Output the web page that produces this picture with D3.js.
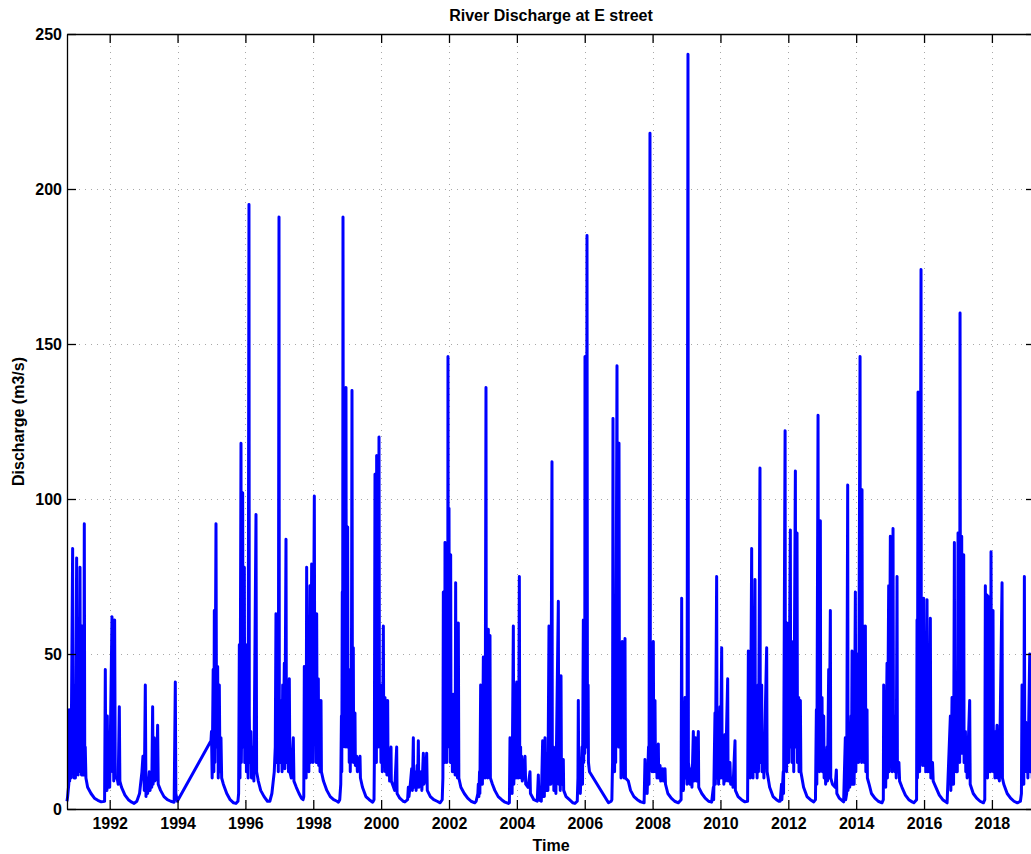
<!DOCTYPE html>
<html>
  <head>
    <meta charset="utf-8">
    <!-- load the d3 javascript library -->
    <script src="https://d3js.org/d3.v7.min.js"></script>
    <style>
      body { margin: 0; background: #fff; }
      text { font-family: "Liberation Sans", Arial, Helvetica, sans-serif; font-weight: bold; }
    </style>
  </head>
  <body>
    <script>

    // discharge readings (decimal year, m3/s), split by decade
    var flow1990s = [
      [1990.742, 2.5], [1990.76, 4], [1990.795, 8], [1990.81, 32], [1990.82, 9], [1990.85, 25], [1990.86, 10],
      [1990.908, 84], [1990.92, 14], [1990.94, 40], [1990.95, 10], [1990.98, 30], [1990.99, 10],
      [1991.026, 81], [1991.04, 12], [1991.06, 30], [1991.07, 11], [1991.085, 55], [1991.10, 12],
      [1991.125, 78], [1991.14, 14], [1991.16, 35], [1991.17, 11], [1991.184, 59], [1991.20, 12],
      [1991.22, 25], [1991.235, 11], [1991.252, 92], [1991.265, 14], [1991.28, 20], [1991.30, 10],
      [1991.35, 7], [1991.45, 5], [1991.55, 3.5], [1991.65, 2.8], [1991.75, 2.3], [1991.85, 2.5],
      [1991.871, 45], [1991.885, 8], [1991.91, 12], [1991.92, 6], [1991.930, 30], [1991.945, 7],
      [1991.98, 10], [1992.00, 7], [1992.068, 62], [1992.085, 12], [1992.11, 20], [1992.12, 9],
      [1992.146, 61], [1992.165, 10], [1992.22, 10], [1992.25, 8], [1992.284, 33], [1992.30, 9],
      [1992.35, 7], [1992.45, 4.5], [1992.55, 3], [1992.65, 2.2], [1992.72, 1.8],
      [1992.80, 2.5], [1992.88, 5], [1992.95, 12], [1992.98, 17], [1993.00, 15], [1993.02, 6],
      [1993.05, 40], [1993.07, 4], [1993.10, 10], [1993.12, 5], [1993.168, 12], [1993.19, 6],
      [1993.22, 10], [1993.24, 7], [1993.266, 33], [1993.28, 8], [1993.315, 23], [1993.33, 9],
      [1993.38, 10], [1993.413, 27], [1993.43, 8], [1993.50, 6], [1993.60, 4], [1993.70, 3],
      [1993.80, 2.5], [1993.90, 2.2], [1993.934, 41], [1993.95, 5], [1993.993, 2.5],
      [1994.985, 22], [1995.00, 25], [1995.02, 10], [1995.05, 45], [1995.07, 12], [1995.084, 64],
      [1995.10, 15], [1995.133, 92], [1995.15, 20], [1995.182, 46], [1995.20, 10], [1995.231, 40],
      [1995.25, 12], [1995.28, 23], [1995.30, 10], [1995.35, 8], [1995.45, 5], [1995.55, 3],
      [1995.65, 2], [1995.72, 1.8], [1995.78, 2.5],
      [1995.80, 5], [1995.821, 53], [1995.84, 10], [1995.870, 118], [1995.88, 15], [1995.90, 40],
      [1995.919, 102], [1995.93, 20], [1995.95, 60], [1995.968, 78], [1995.98, 15], [1996.017, 53],
      [1996.03, 12], [1996.06, 25], [1996.08, 10], [1996.105, 195], [1996.115, 30], [1996.13, 15],
      [1996.16, 25], [1996.18, 10], [1996.22, 20], [1996.25, 9], [1996.312, 95], [1996.33, 12],
      [1996.38, 9], [1996.45, 6], [1996.55, 4], [1996.65, 2.5], [1996.72, 2.5],
      [1996.78, 5], [1996.85, 12], [1996.88, 20], [1996.901, 63], [1996.92, 15], [1996.95, 30],
      [1996.97, 12], [1996.990, 191], [1997.00, 25], [1997.03, 15], [1997.06, 35], [1997.08, 12],
      [1997.098, 40], [1997.11, 15], [1997.147, 47], [1997.16, 13], [1997.196, 87], [1997.21, 15],
      [1997.25, 20], [1997.27, 12], [1997.294, 42], [1997.31, 12], [1997.35, 10], [1997.412, 23],
      [1997.43, 9], [1997.50, 7], [1997.58, 5], [1997.65, 3.5], [1997.70, 3],
      [1997.72, 4], [1997.736, 46], [1997.75, 10], [1997.78, 20], [1997.79, 10], [1997.805, 78],
      [1997.82, 14], [1997.85, 40], [1997.87, 12], [1997.903, 72], [1997.92, 15], [1997.952, 79],
      [1997.96, 20], [1997.98, 55], [1997.99, 15], [1998.031, 101], [1998.045, 25], [1998.07, 40],
      [1998.085, 15], [1998.100, 63], [1998.115, 15], [1998.149, 42], [1998.16, 14], [1998.19, 30],
      [1998.20, 12], [1998.228, 35], [1998.24, 12], [1998.30, 9], [1998.40, 6], [1998.50, 4],
      [1998.60, 3], [1998.70, 2.5], [1998.74, 2.2],
      [1998.78, 3], [1998.81, 8], [1998.83, 30], [1998.84, 12], [1998.855, 70], [1998.865, 20],
      [1998.876, 191], [1998.89, 40], [1998.905, 100], [1998.915, 25], [1998.93, 60], [1998.94, 20],
      [1998.964, 136], [1998.975, 30], [1998.99, 75], [1999.00, 20], [1999.013, 91], [1999.025, 20],
      [1999.05, 45], [1999.06, 15], [1999.08, 35], [1999.09, 12], [1999.11, 40], [1999.12, 15],
      [1999.141, 135], [1999.155, 20], [1999.180, 52], [1999.19, 15], [1999.229, 31], [1999.24, 14],
      [1999.28, 17], [1999.30, 12], [1999.377, 17], [1999.39, 10], [1999.45, 7], [1999.55, 4],
      [1999.65, 3], [1999.75, 2.2],
      [1999.79, 3], [1999.80, 15], [1999.819, 108], [1999.83, 20], [1999.85, 50], [1999.86, 15],
      [1999.868, 114], [1999.88, 25], [1999.90, 60], [1999.915, 20], [1999.937, 120], [1999.95, 25],
      [1999.98, 40], [1999.995, 15]
    ];

    var flow2000s = [
      [2000.02, 30], [2000.035, 12], [2000.065, 59], [2000.08, 14], [2000.114, 36], [2000.125, 12],
      [2000.16, 22], [2000.17, 11], [2000.192, 35], [2000.205, 11], [2000.24, 15], [2000.25, 9],
      [2000.291, 20], [2000.30, 9], [2000.40, 6], [2000.458, 20], [2000.47, 5], [2000.55, 3.5],
      [2000.65, 2.5], [2000.70, 2.3],
      [2000.78, 3], [2000.801, 7], [2000.82, 4], [2000.86, 8], [2000.900, 13], [2000.92, 6],
      [2000.949, 23], [2000.96, 7], [2000.99, 10], [2001.018, 12], [2001.03, 6], [2001.06, 14],
      [2001.075, 7], [2001.096, 22], [2001.11, 7], [2001.145, 9], [2001.18, 12], [2001.20, 6],
      [2001.244, 18], [2001.26, 8], [2001.30, 10], [2001.342, 18], [2001.36, 6], [2001.45, 4],
      [2001.55, 3], [2001.65, 2.5], [2001.74, 2],
      [2001.80, 3], [2001.82, 10], [2001.833, 70], [2001.845, 15], [2001.865, 40], [2001.875, 15],
      [2001.882, 86], [2001.895, 20], [2001.92, 45], [2001.935, 15], [2001.955, 60], [2001.962, 20],
      [2001.970, 146], [2001.98, 25], [2002.000, 97], [2002.015, 20], [2002.03, 55], [2002.04, 15],
      [2002.049, 82], [2002.06, 18], [2002.09, 35], [2002.10, 12], [2002.128, 37], [2002.14, 12],
      [2002.17, 25], [2002.18, 11], [2002.196, 73], [2002.21, 12], [2002.24, 20], [2002.25, 10],
      [2002.275, 60], [2002.29, 10], [2002.35, 7], [2002.45, 5], [2002.55, 3.5], [2002.65, 2.5],
      [2002.76, 2],
      [2002.80, 2.5], [2002.85, 5], [2002.864, 8], [2002.88, 4], [2002.90, 12], [2002.91, 5],
      [2002.933, 40], [2002.945, 8], [2002.97, 20], [2002.985, 8], [2003.012, 49], [2003.025, 10],
      [2003.05, 30], [2003.065, 10], [2003.090, 136], [2003.10, 15], [2003.13, 25], [2003.14, 10],
      [2003.159, 58], [2003.17, 12], [2003.208, 56], [2003.22, 10], [2003.28, 8], [2003.35, 6],
      [2003.45, 4], [2003.55, 3], [2003.65, 2.2], [2003.75, 1.8],
      [2003.78, 2], [2003.798, 23], [2003.81, 5], [2003.85, 10], [2003.86, 5], [2003.896, 59],
      [2003.91, 8], [2003.93, 20], [2003.945, 40], [2003.96, 10], [2003.994, 41], [2004.005, 10],
      [2004.04, 25], [2004.05, 10], [2004.073, 75], [2004.085, 12], [2004.11, 20], [2004.12, 10],
      [2004.142, 17], [2004.16, 9], [2004.20, 12], [2004.240, 17], [2004.26, 8], [2004.33, 7],
      [2004.387, 12], [2004.40, 5], [2004.50, 3], [2004.60, 2.5], [2004.633, 11], [2004.65, 3],
      [2004.72, 2.5],
      [2004.76, 22], [2004.77, 4], [2004.80, 10], [2004.81, 4], [2004.829, 23], [2004.84, 6],
      [2004.87, 15], [2004.88, 6], [2004.90, 18], [2004.915, 6], [2004.947, 59], [2004.96, 8],
      [2004.99, 25], [2005.00, 8], [2005.035, 112], [2005.045, 12], [2005.08, 20], [2005.09, 6],
      [2005.12, 10], [2005.15, 5], [2005.222, 67], [2005.235, 8], [2005.27, 12], [2005.28, 6],
      [2005.301, 43], [2005.315, 8], [2005.369, 16], [2005.38, 6], [2005.45, 4], [2005.55, 3],
      [2005.65, 2], [2005.71, 1.8],
      [2005.78, 2.5], [2005.80, 10], [2005.811, 35], [2005.825, 6], [2005.86, 12], [2005.87, 5],
      [2005.92, 20], [2005.935, 8], [2005.959, 61], [2005.97, 15], [2005.99, 50], [2006.00, 18],
      [2006.008, 146], [2006.02, 30], [2006.04, 60], [2006.05, 20], [2006.067, 185], [2006.08, 25],
      [2006.10, 40], [2006.11, 15], [2006.14, 12], [2006.70, 2], [2006.78, 2.5],
      [2006.80, 3], [2006.82, 15], [2006.833, 126], [2006.845, 20], [2006.87, 40], [2006.88, 12],
      [2006.90, 60], [2006.912, 15], [2006.951, 143], [2006.965, 25], [2006.99, 70], [2007.00, 20],
      [2007.010, 118], [2007.025, 20], [2007.06, 30], [2007.07, 10], [2007.108, 54], [2007.12, 12],
      [2007.15, 25], [2007.16, 10], [2007.187, 55], [2007.20, 10], [2007.285, 9], [2007.35, 6],
      [2007.45, 4], [2007.55, 3], [2007.65, 2.3], [2007.75, 2],
      [2007.776, 16], [2007.79, 5], [2007.83, 12], [2007.84, 5], [2007.88, 20], [2007.895, 8],
      [2007.923, 218], [2007.935, 25], [2007.955, 15], [2007.973, 36], [2007.985, 12], [2008.022, 54],
      [2008.035, 12], [2008.071, 35], [2008.085, 12], [2008.12, 20], [2008.13, 10], [2008.169, 21],
      [2008.18, 10], [2008.22, 14], [2008.24, 9], [2008.30, 13], [2008.32, 9], [2008.366, 13],
      [2008.38, 8], [2008.45, 5], [2008.55, 3.5], [2008.65, 2.5], [2008.76, 2],
      [2008.84, 3], [2008.857, 68], [2008.87, 8], [2008.90, 12], [2008.91, 6], [2008.955, 36],
      [2008.97, 10], [2009.00, 15], [2009.015, 8], [2009.043, 243.5], [2009.055, 15], [2009.09, 12],
      [2009.10, 8], [2009.14, 13], [2009.16, 7], [2009.201, 25], [2009.215, 9], [2009.270, 23],
      [2009.285, 9], [2009.348, 25], [2009.36, 7], [2009.45, 5], [2009.55, 3.5], [2009.65, 2.5],
      [2009.74, 2.2],
      [2009.79, 7], [2009.80, 3], [2009.839, 31], [2009.85, 8], [2009.888, 75], [2009.90, 10],
      [2009.93, 25], [2009.945, 8], [2009.987, 33], [2010.00, 10]
    ];

    var flow2010s = [
      [2010.036, 52], [2010.05, 10], [2010.09, 20], [2010.10, 8], [2010.134, 24], [2010.145, 9],
      [2010.213, 42], [2010.225, 9], [2010.28, 15], [2010.30, 8], [2010.35, 10], [2010.37, 7],
      [2010.429, 22], [2010.44, 6], [2010.52, 4], [2010.62, 3], [2010.72, 2.3], [2010.80, 2.5],
      [2010.822, 51], [2010.835, 10], [2010.871, 32], [2010.88, 10], [2010.920, 84], [2010.935, 12],
      [2010.95, 25], [2010.96, 10], [2010.969, 56], [2010.98, 12], [2011.018, 74], [2011.03, 12],
      [2011.07, 25], [2011.08, 10], [2011.11, 40], [2011.12, 12], [2011.165, 110], [2011.175, 15],
      [2011.215, 40], [2011.225, 12], [2011.27, 20], [2011.28, 10], [2011.362, 52], [2011.375, 12],
      [2011.45, 7], [2011.55, 4], [2011.65, 3], [2011.72, 2.5],
      [2011.76, 2.5], [2011.80, 8], [2011.81, 3], [2011.85, 12], [2011.86, 5], [2011.905, 122],
      [2011.915, 15], [2011.94, 30], [2011.95, 12], [2011.962, 60], [2011.975, 15], [2012.00, 54],
      [2012.01, 15], [2012.060, 90], [2012.07, 20], [2012.10, 54], [2012.11, 15], [2012.15, 30],
      [2012.16, 12], [2012.208, 109], [2012.22, 20], [2012.257, 89], [2012.27, 15], [2012.306, 36],
      [2012.315, 12], [2012.355, 35], [2012.37, 12], [2012.45, 7], [2012.55, 4], [2012.65, 3],
      [2012.75, 2.3],
      [2012.80, 3], [2012.827, 32], [2012.84, 8], [2012.876, 127], [2012.89, 15], [2012.91, 40],
      [2012.92, 12], [2012.944, 93], [2012.955, 15], [2012.994, 36], [2013.005, 12], [2013.043, 30],
      [2013.055, 10], [2013.09, 15], [2013.10, 8], [2013.141, 20], [2013.155, 9], [2013.190, 45],
      [2013.20, 10], [2013.239, 64], [2013.25, 10], [2013.30, 8], [2013.38, 7], [2013.416, 12.6],
      [2013.43, 5], [2013.50, 3.5], [2013.63, 2.3],
      [2013.68, 23], [2013.69, 3], [2013.72, 5], [2013.750, 104.5], [2013.76, 6], [2013.80, 15],
      [2013.81, 7], [2013.85, 30], [2013.86, 8], [2013.878, 51], [2013.89, 8], [2013.93, 30],
      [2013.94, 8], [2013.976, 70], [2013.99, 12], [2014.025, 50], [2014.035, 15], [2014.06, 40],
      [2014.07, 15], [2014.114, 146], [2014.125, 25], [2014.15, 40], [2014.16, 15], [2014.172, 103],
      [2014.185, 20], [2014.222, 59], [2014.235, 15], [2014.271, 59], [2014.285, 12], [2014.320, 32],
      [2014.33, 10], [2014.38, 8], [2014.45, 5], [2014.55, 3.5], [2014.65, 2.5], [2014.76, 2],
      [2014.80, 3], [2014.811, 40], [2014.82, 8], [2014.86, 15], [2014.87, 7], [2014.909, 47],
      [2014.92, 10], [2014.958, 72], [2014.97, 12], [2015.007, 88], [2015.02, 15], [2015.05, 35],
      [2015.06, 12], [2015.086, 90.5], [2015.10, 15], [2015.13, 30], [2015.14, 12], [2015.17, 20],
      [2015.18, 10], [2015.204, 75], [2015.215, 12], [2015.26, 15], [2015.28, 9], [2015.35, 7],
      [2015.45, 4.5], [2015.55, 3], [2015.65, 2.3], [2015.70, 2],
      [2015.78, 3], [2015.793, 61], [2015.805, 10], [2015.823, 134.5], [2015.835, 15], [2015.86, 45],
      [2015.87, 12], [2015.911, 174], [2015.92, 20], [2015.95, 40], [2015.96, 14], [2015.990, 68],
      [2016.00, 14], [2016.04, 30], [2016.05, 12], [2016.088, 67.5], [2016.10, 12], [2016.14, 25],
      [2016.15, 12], [2016.186, 61.5], [2016.20, 10], [2016.25, 15], [2016.27, 9], [2016.35, 7],
      [2016.45, 4.5], [2016.55, 3], [2016.68, 2],
      [2016.776, 30], [2016.79, 6], [2016.825, 36], [2016.835, 8], [2016.86, 20], [2016.87, 8],
      [2016.894, 86], [2016.905, 12], [2016.94, 40], [2016.95, 12], [2016.97, 30], [2016.98, 12],
      [2017.002, 89], [2017.015, 15], [2017.04, 40], [2017.05, 15], [2017.061, 160], [2017.075, 20],
      [2017.110, 88], [2017.12, 18], [2017.169, 82], [2017.18, 15], [2017.22, 25], [2017.23, 12],
      [2017.26, 18], [2017.27, 10], [2017.345, 35], [2017.36, 8], [2017.45, 5], [2017.55, 3.5],
      [2017.65, 2.5], [2017.75, 2],
      [2017.79, 3], [2017.807, 72], [2017.82, 10], [2017.856, 69], [2017.87, 10], [2017.906, 68.5],
      [2017.92, 12], [2017.95, 30], [2017.96, 12], [2017.974, 83], [2017.99, 14], [2018.033, 64],
      [2018.045, 12], [2018.08, 25], [2018.09, 10], [2018.151, 27], [2018.165, 10], [2018.21, 20],
      [2018.22, 9], [2018.299, 73], [2018.31, 10], [2018.35, 8], [2018.45, 5], [2018.55, 3.5],
      [2018.65, 2.5], [2018.75, 2], [2018.84, 2.5],
      [2018.87, 5], [2018.888, 40], [2018.90, 8], [2018.93, 20], [2018.94, 8], [2018.957, 75],
      [2018.97, 12], [2019.00, 28], [2019.016, 12], [2019.05, 25], [2019.06, 10], [2019.114, 50],
      [2019.13, 12], [2019.18, 30], [2019.19, 10], [2019.26, 8]
    ];

    var xTicks = [1992, 1994, 1996, 1998, 2000, 2002, 2004, 2006, 2008, 2010,
      2012, 2014, 2016, 2018];
    var yTicks = [0, 50, 100, 150, 200, 250];
    var xRange = [1990.742, 2019.27];
    var yRange = [0, 250];

    var flow = flow1990s.concat(flow2000s, flow2010s);

    // svg size and plot box
    var w = 1031;
    var h = 854;
    var box = { left: 67, top: 34, right: 1035, bottom: 809 };
    var tickLen = 9;

    var svg = d3.select("body")
      .append("svg")
      .attr("width", w)
      .attr("height", h);

    var x = d3.scaleLinear().domain(xRange).range([box.left, box.right]);
    var y = d3.scaleLinear().domain(yRange).range([box.bottom, box.top]);

    // dotted grid
    var grid = svg.append("g")
      .attr("stroke", "#a8a8a8")
      .attr("stroke-width", 1)
      .attr("stroke-dasharray", "1,5");
    grid.selectAll(".gx")
      .data(xTicks)
      .enter()
      .append("line")
      .attr("x1", function(d) { return Math.round(x(d)) + 0.5; })
      .attr("x2", function(d) { return Math.round(x(d)) + 0.5; })
      .attr("y1", box.top)
      .attr("y2", box.bottom);
    grid.selectAll(".gy")
      .data(yTicks.slice(1, -1))
      .enter()
      .append("line")
      .attr("y1", function(d) { return Math.round(y(d)) + 0.5; })
      .attr("y2", function(d) { return Math.round(y(d)) + 0.5; })
      .attr("x1", box.left)
      .attr("x2", box.right);

    // the discharge line
    var line = d3.line()
      .x(function(d) { return x(d[0]); })
      .y(function(d) { return y(d[1]); });

    svg.append("path")
      .datum(flow)
      .attr("fill", "none")
      .attr("stroke", "#0000ff")
      .attr("stroke-width", 3)
      .attr("stroke-linejoin", "round")
      .attr("d", line);

    // axes with ticks pointing inward (box style)
    var fmt = d3.format("d");
    var axB = svg.append("g")
      .attr("transform", "translate(0," + box.bottom + ")")
      .call(d3.axisBottom(x).tickValues(xTicks).tickFormat(fmt)
        .tickSizeInner(-tickLen).tickSizeOuter(0).tickPadding(9));
    var axL = svg.append("g")
      .attr("transform", "translate(" + box.left + ",0)")
      .call(d3.axisLeft(y).tickValues(yTicks).tickFormat(fmt)
        .tickSizeInner(-tickLen).tickSizeOuter(0).tickPadding(5));
    var axT = svg.append("g")
      .attr("transform", "translate(0," + box.top + ")")
      .call(d3.axisTop(x).tickValues(xTicks).tickFormat("")
        .tickSizeInner(-tickLen).tickSizeOuter(0));
    var axR = svg.append("g")
      .attr("transform", "translate(" + box.right + ",0)")
      .call(d3.axisRight(y).tickValues(yTicks).tickFormat("")
        .tickSizeInner(-tickLen).tickSizeOuter(0));

    [axB, axL, axT, axR].forEach(function(a) {
      a.select(".domain").attr("stroke", "#000").attr("stroke-width", 1.3);
      a.selectAll(".tick line").attr("stroke", "#000").attr("stroke-width", 1.3);
      a.selectAll("text")
        .attr("fill", "#000")
        .style("font-size", "16px")
        .style("font-weight", "bold");
    });

    // title and axis labels
    svg.append("text")
      .attr("x", (box.left + box.right) / 2)
      .attr("y", 21)
      .attr("text-anchor", "middle")
      .style("font-size", "16px")
      .text("River Discharge at E street");

    svg.append("text")
      .attr("x", (box.left + box.right) / 2)
      .attr("y", 851)
      .attr("text-anchor", "middle")
      .style("font-size", "16px")
      .text("Time");

    svg.append("text")
      .attr("transform", "translate(24," + ((box.top + box.bottom) / 2) + ") rotate(-90)")
      .attr("text-anchor", "middle")
      .style("font-size", "16px")
      .text("Discharge (m3/s)");

    </script>
  </body>
</html>
